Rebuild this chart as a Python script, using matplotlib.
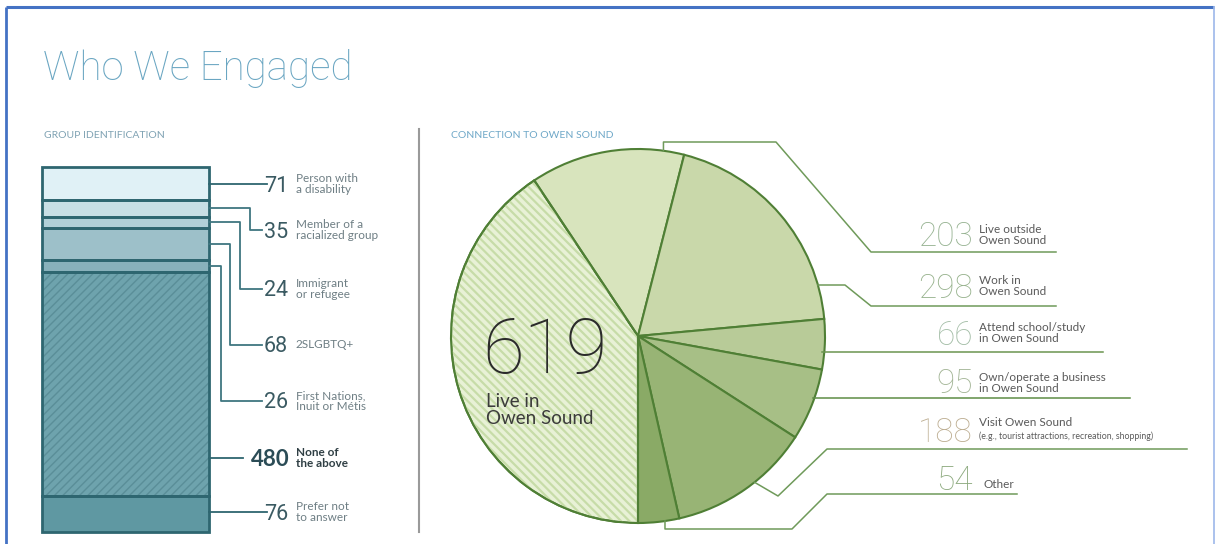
import matplotlib
matplotlib.use("Agg")
import matplotlib.pyplot as plt
import numpy as np
from matplotlib.patches import Wedge

plt.rcParams['font.family'] = ['Lato', 'DejaVu Sans']

# ---------------- data ----------------
group_labels = ["Person with\na disability", "Member of a\nracialized group",
                "Immigrant\nor refugee", "2SLGBTQ+", "First Nations,\nInuit or Métis",
                "None of\nthe above", "Prefer not\nto answer"]
group_values = [71, 35, 24, 68, 26, 480, 76]

conn_labels = ["Live in\nOwen Sound", "Live outside\nOwen Sound", "Work in\nOwen Sound",
               "Attend school/study\nin Owen Sound", "Own/operate a business\nin Owen Sound",
               "Visit Owen Sound", "Other"]
conn_values = [619, 203, 298, 66, 95, 188, 54]
visit_note = "(e.g., tourist attractions, recreation, shopping)"

title = "Who We Engaged"
left_heading = "GROUP IDENTIFICATION"
right_heading = "CONNECTION TO OWEN SOUND"

# ---------------- style / layout ----------------
W, H = 1217, 544
bar_colors = ['#e0f1f6', '#c8dfe5', '#b1d0d8', '#9dc0c9', '#88b1bb', '#6ea3ad', '#5f98a2']
bar_edge = '#2e6670'
pie_colors = ['#e8f1d6', '#d8e4bd', '#c9d8aa', '#b8cb98', '#a7bf86', '#98b475', '#8aaa66']
pie_edge = '#4f7f35'
lead_green = '#6f9a5a'
num_colors = ['#2b2b2b', '#97b392', '#98b38e', '#a3bda6', '#a3b596', '#bdae92', '#8daa7f']
thin_font = ['Roboto', 'Lato', 'DejaVu Sans']

fig = plt.figure(figsize=(W / 100, H / 100), dpi=100)
fig.patch.set_facecolor('white')

ov = fig.add_axes([0, 0, 1, 1], zorder=5)
ov.set_xlim(0, W)
ov.set_ylim(H, 0)
ov.axis('off')
ov.patch.set_alpha(0)


def px(ax, x, y):
    d = ax.transData.transform((x, y))
    return ov.transData.inverted().transform(d)


# frame
ov.plot([6, 6], [7, H], color='#4472c4', lw=2, solid_capstyle='butt')
ov.plot([6, 1214], [7, 7], color='#4472c4', lw=2.2, solid_capstyle='butt')
ov.plot([1214, 1214], [7, H], color='#9db8ea', lw=1.2)

# title + headings
ov.text(43, 80, title, fontsize=29, fontweight='light', family=thin_font,
        color='#6aa6c2', va='baseline')
ov.text(44, 135, left_heading, fontsize=7.5, color='#7fa2b3', va='center')
ov.text(451, 135, right_heading, fontsize=7.5, color='#6fa8c8', va='center')
ov.plot([419, 419], [129, 532], color='#9a9a9a', lw=1.5)

# ---------------- stacked bar ----------------
total_g = sum(group_values)
bax = fig.add_axes([42 / W, (H - 532) / H, 167 / W, 365 / H], zorder=2)
bax.set_xlim(0, 1)
bax.set_ylim(total_g, 0)
bax.axis('off')
bottoms = np.concatenate([[0], np.cumsum(group_values)[:-1]])
bax.bar(0.5, group_values, width=1, bottom=bottoms, color=bar_colors, linewidth=0, clip_on=False)
with plt.rc_context({'hatch.linewidth': 1.0}):
    bax.bar(0.5, group_values[5], width=1, bottom=bottoms[5], color='none', edgecolor='#5a8e98',
            hatch='////', linewidth=0, clip_on=False)
bax.bar(0.5, group_values, width=1, bottom=bottoms, color='none', edgecolor=bar_edge,
        linewidth=2, clip_on=False)

label_y = [184, 230, 289, 345, 401, 458, 512]
elbow_x = [None, 250, 240, 230, 221, None, None]
line_end = [267, 262, 262, 262, 262, 243, 267]
bar_right = px(bax, 1, 0)[0]
for i, v in enumerate(group_values):
    ly = label_y[i]
    if elbow_x[i] is None:
        ov.plot([bar_right, line_end[i]], [ly, ly], color=bar_edge, lw=1.3)
    else:
        sy = px(bax, 1, bottoms[i] + v / 2)[1]
        ex = elbow_x[i]
        ov.plot([bar_right, ex, ex, line_end[i]], [sy, sy, ly, ly], color='#3f7680', lw=1.3)
    bold = (i == 5)
    ov.text(288 if not bold else 290, ly + 7.5, str(v), ha='right', va='baseline',
            fontsize=16 if bold else 15.5, fontweight='bold' if bold else 'normal',
            family=['Lato', 'DejaVu Sans'] if bold else thin_font,
            color='#2b4c56' if bold else '#3a5a62')
    ov.text(296, ly, group_labels[i], ha='left', va='center', fontsize=8.5, linespacing=0.95,
            fontweight='bold' if bold else 'normal',
            color='#2f3f44' if bold else '#6e7e84')

# ---------------- pie ----------------
pax = fig.add_axes([451 / W, (H - 523) / H, 374 / W, 374 / H], zorder=2)
wedges, _ = pax.pie(conn_values, colors=pie_colors, startangle=270, counterclock=False,
                    wedgeprops=dict(edgecolor=pie_edge, linewidth=1.5))
pax.set_xlim(-1, 1)
pax.set_ylim(-1, 1)
w0 = wedges[0]
with plt.rc_context({'hatch.linewidth': 1.6}):
    pax.add_patch(Wedge((0, 0), 1, w0.theta1, w0.theta2, facecolor='none',
                        edgecolor='#c7dca8', hatch='\\\\\\\\', lw=0))
pax.add_patch(Wedge((0, 0), 1, w0.theta1, w0.theta2, fill=False, edgecolor=pie_edge, lw=1.5))

total_c = sum(conn_values)
ends, spans = [], []
a = 270.0
for v in conn_values:
    s = 360.0 * v / total_c
    a -= s
    ends.append(a)
    spans.append(s)


def edge_pt(frac, i):
    ang = np.deg2rad(ends[i] + frac * spans[i])
    return px(pax, np.cos(ang), np.sin(ang))


def edge_at_y(ypix):
    yd = pax.transData.inverted().transform(ov.transData.transform((0, ypix)))[1]
    return px(pax, np.sqrt(max(0.0, 1 - yd ** 2)) - 0.01, yd)[0]


lw_l = 1.1
# 203
p = edge_pt(0.135, 1)
ov.plot([p[0], p[0], 776, 871, 1056], [p[1], 142, 142, 252, 252], color=lead_green, lw=lw_l)
# 298
p = edge_pt(0.15, 2)
ov.plot([p[0], 845, 871, 1056], [p[1], p[1], 306, 306], color=lead_green, lw=lw_l)
# 66
ov.plot([edge_at_y(352), 1103], [352, 352], color='#6b9550', lw=lw_l)
# 95
ov.plot([edge_at_y(398), 1130], [398, 398], color='#5e8d45', lw=lw_l)
# 188
p = edge_pt(0.58, 5)
ov.plot([p[0], 778, 827, 1187], [p[1], 496, 449, 449], color=lead_green, lw=lw_l)
# 54
p = edge_pt(0.65, 6)
ov.plot([p[0], p[0], 792, 827, 1017], [p[1], 529, 529, 494, 494], color=lead_green, lw=lw_l)

# central label
ov.text(482, 373, str(conn_values[0]), fontsize=55, fontweight='light', family=thin_font,
        color='#2b2b2b', va='baseline', ha='left')
ov.text(486, 410, conn_labels[0], fontsize=13.5, color='#3b3b3b', va='center', ha='left',
        linespacing=1.0)

num_base = [None, 246, 298, 345, 393, 442, 490]
lab_y = [None, 235, 286, 333, 383, None, 484]
for i in range(1, len(conn_values)):
    ov.text(973, num_base[i], str(conn_values[i]), fontsize=24, fontweight='light',
            family=thin_font, color=num_colors[i], ha='right', va='baseline')
    if i == 5:
        ov.text(979, 423, conn_labels[i], fontsize=8.5, color='#5a5a5a', va='center', ha='left')
        ov.text(979, 436, visit_note, fontsize=6.3, color='#5a5a5a', va='center', ha='left')
    else:
        ov.text(979 if i != 6 else 983, lab_y[i], conn_labels[i], fontsize=8.5,
                color='#5a5a5a', va='center', ha='left', linespacing=0.95)

fig.savefig('out.png', dpi=100)
